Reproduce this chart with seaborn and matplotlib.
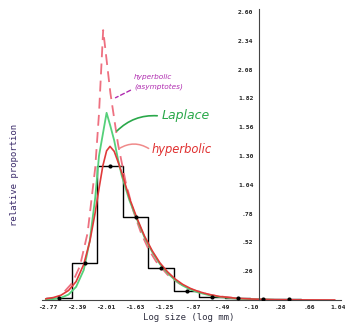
import matplotlib
matplotlib.use("Agg")
import matplotlib.pyplot as plt
from matplotlib.ticker import MultipleLocator, FixedLocator, FixedFormatter
import seaborn as sns
import numpy as np

# ---------------- data ----------------
bin_edges = [-2.79, -2.455, -2.12, -1.785, -1.45, -1.115, -0.78, -0.445, -0.11, 0.225, 0.56]
bin_centers = [-2.6225, -2.2875, -1.9525, -1.6175, -1.2825, -0.9475, -0.6125, -0.2775, 0.0575, 0.3925]
bin_heights = [0.022, 0.336, 1.213, 0.747, 0.292, 0.081, 0.027, 0.016, 0.011, 0.009]

hyp_x = [-2.80, -2.70, -2.60, -2.50, -2.40, -2.30, -2.22, -2.15, -2.10, -2.05, -2.00, -1.955,
         -1.90, -1.85, -1.80, -1.70, -1.60, -1.50, -1.40, -1.30, -1.20, -1.10, -1.00, -0.90,
         -0.80, -0.65, -0.50, -0.30, -0.10, 0.20, 0.60, 1.00]
hyp_y = [0.011, 0.022, 0.043, 0.086, 0.167, 0.322, 0.530, 0.789, 1.004, 1.209, 1.347, 1.387,
         1.342, 1.248, 1.148, 0.921, 0.737, 0.574, 0.444, 0.336, 0.255, 0.190, 0.141, 0.105,
         0.078, 0.049, 0.030, 0.016, 0.009, 0.003, 0.001, 0.0003]

lap_x = [-2.80, -2.70, -2.60, -2.50, -2.40, -2.30, -2.22, -2.15, -2.10, -2.05, -2.00, -1.95,
         -1.90, -1.85, -1.80, -1.70, -1.60, -1.50, -1.40, -1.30, -1.20, -1.10, -1.00, -0.90,
         -0.80, -0.65, -0.50, -0.30, -0.10, 0.20]
lap_y = [0.004, 0.009, 0.020, 0.049, 0.119, 0.271, 0.540, 0.920, 1.300, 1.495, 1.690, 1.570,
         1.440, 1.270, 1.120, 0.900, 0.726, 0.563, 0.433, 0.325, 0.244, 0.179, 0.130, 0.095,
         0.069, 0.043, 0.026, 0.013, 0.0065, 0.002]

asym_x = [-2.55, -2.45, -2.35, -2.25, -2.15, -2.10, -2.045, -1.95, -1.85, -1.75, -1.65, -1.55,
          -1.45, -1.35, -1.20, -1.05, -0.90, -0.75, -0.60, -0.45, -0.30]
asym_y = [0.079, 0.155, 0.307, 0.604, 1.190, 1.680, 2.437, 1.868, 1.408, 1.067, 0.807, 0.610,
          0.460, 0.348, 0.229, 0.151, 0.099, 0.065, 0.042, 0.028, 0.018]

x_ticks = [-2.77, -2.389, -2.008, -1.627, -1.246, -0.865, -0.484, -0.103, 0.278, 0.659, 1.04]
x_tick_labels = ["-2.77", "-2.39", "-2.01", "-1.63", "-1.25", "-.87", "-.49", "-.10", ".28", ".66", "1.04"]
y_ticks = [0.26, 0.52, 0.78, 1.04, 1.30, 1.56, 1.82, 2.08, 2.34, 2.60]
y_tick_labels = [".26", ".52", ".78", "1.04", "1.30", "1.56", "1.82", "2.08", "2.34", "2.60"]

x_label = "Log size (log mm)"
y_label = "relative proportion"

# ---------------- figure ----------------
sns.set_style("white")
plt.rcParams["font.family"] = ["DejaVu Sans Mono", "DejaVu Sans"]

W, H = 345, 327
fig = plt.figure(figsize=(W / 100, H / 100), dpi=100)
ax = fig.add_axes([41.9 / W, 27 / H, (341 - 41.9) / W, (300 - 8.7) / H])
ax.set_xlim(-2.85, 1.08)
ax.set_ylim(0, 2.63)

# histogram outline
sns.histplot(x=bin_centers, weights=bin_heights, bins=bin_edges, element="step",
             fill=False, color="black", linewidth=1.0, ax=ax)
# fitted curves
sns.lineplot(x=asym_x, y=asym_y, color="#ee7080", linewidth=1.3, linestyle=(0, (6, 3.5)),
             sort=False, errorbar=None, ax=ax)
sns.lineplot(x=lap_x, y=lap_y, color="#55d07a", linewidth=1.3, sort=False, errorbar=None, ax=ax)
sns.lineplot(x=hyp_x, y=hyp_y, color="#e03a3a", linewidth=1.2, sort=False, errorbar=None, ax=ax)
# bin midpoints
sns.scatterplot(x=bin_centers, y=bin_heights, color="black", s=9, edgecolor="black",
                linewidth=0, zorder=5, ax=ax)

# axes styling
for s in ["top", "right"]:
    ax.spines[s].set_visible(False)
ax.spines["left"].set_position(("data", 0))
ax.spines["bottom"].set_position(("data", 0))
for s in ["left", "bottom"]:
    ax.spines[s].set_color("#444444")
    ax.spines[s].set_linewidth(0.8)

ax.xaxis.set_major_locator(FixedLocator(x_ticks))
ax.xaxis.set_major_formatter(FixedFormatter(x_tick_labels))
ax.xaxis.set_minor_locator(MultipleLocator(0.0381))
ax.yaxis.set_major_locator(FixedLocator(y_ticks))
ax.yaxis.set_major_formatter(FixedFormatter(y_tick_labels))
ax.yaxis.set_minor_locator(MultipleLocator(0.026))
ax.tick_params(which="major", direction="inout", length=4.5, width=0.9, color="#333333",
               labelsize=4.6, pad=1.5)
ax.tick_params(which="minor", direction="inout", length=3, width=0.7, color="#666666")
for lab in ax.get_xticklabels() + ax.get_yticklabels():
    lab.set_fontweight("bold")
    lab.set_color("#222222")

ax.set_xlabel("")
ax.set_ylabel("")
fig.text(189 / W, 1 - 318 / H, x_label, ha="center", va="center", fontsize=6.5, color="#333344")
fig.text(15 / W, 1 - 175 / H, y_label, ha="center", va="center", rotation=90,
         fontsize=6.5, color="#3a2a6a")

# hand annotations
def fp(x, y):
    return (x / W, 1 - y / H)

fig.text(*fp(162, 115), "Laplace", fontsize=9, color="#2aa84a", style="italic",
         family=["DejaVu Sans"], ha="left", va="center")
fig.text(*fp(152, 150), "hyperbolic", fontsize=8.3, color="#e03030", style="italic",
         family=["DejaVu Sans"], ha="left", va="center")
fig.text(*fp(134, 77), "hyperbolic", fontsize=5.3, color="#b02cb0", style="italic",
         family=["DejaVu Sans"], ha="left", va="center")
fig.text(*fp(134, 87), "(asymptotes)", fontsize=5.3, color="#b02cb0", style="italic",
         family=["DejaVu Sans"], ha="left", va="center")

ax.annotate("", xy=fp(115, 133), xycoords="figure fraction", xytext=fp(160, 116),
            textcoords="figure fraction",
            arrowprops=dict(arrowstyle="-", color="#2aa84a", lw=1.2,
                            connectionstyle="arc3,rad=0.25"))
ax.annotate("", xy=fp(117, 150), xycoords="figure fraction", xytext=fp(151, 150),
            textcoords="figure fraction",
            arrowprops=dict(arrowstyle="-", color="#f08a8a", lw=1.1,
                            connectionstyle="arc3,rad=0.35"))
ax.annotate("", xy=fp(113, 99), xycoords="figure fraction", xytext=fp(133, 89),
            textcoords="figure fraction",
            arrowprops=dict(arrowstyle="-", color="#b02cb0", lw=1.0, linestyle=(0, (3, 2))))

fig.savefig("out.png", dpi=100)
